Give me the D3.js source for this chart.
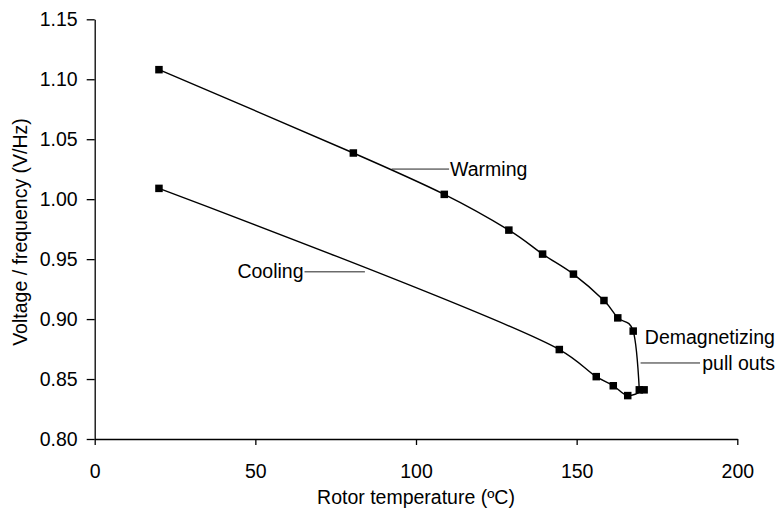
<!DOCTYPE html>
<html lang="en">
<head>
    <meta charset="UTF-8">
    <title>Rotor temperature vs V/Hz</title>
    <script src="https://d3js.org/d3.v7.min.js"></script>
    <style>
        body {
            margin: 0;
            background: #fff;
        }

        svg {
            display: block;
            font-family: "Liberation Sans", Arial, sans-serif;
        }
    </style>
</head>
<body>
    <div id="chart"></div>

    <script>
        // data
        const warmingTemp = [20, 80.5, 108.8, 128.9, 139.4, 149, 158.5, 162.8, 167.6, 169.5];
        const warmingVhz  = [1.108, 1.0385, 1.004, 0.9742, 0.9542, 0.9375, 0.9155, 0.901, 0.890, 0.841];
        const coolingTemp = [171, 165.9, 161.4, 156.1, 144.6, 20];
        const coolingVhz  = [0.841, 0.8362, 0.8444, 0.852, 0.8746, 1.009];
        const xTicks = [0, 50, 100, 150, 200];
        const yTicks = [0.80, 0.85, 0.90, 0.95, 1.00, 1.05, 1.10, 1.15];

        const width = 779;
        const height = 509;
        const margin = {top: 19.3, right: 41.7, bottom: 70, left: 94.7};
        const fontSize = 19.5;

        const svg = d3.select("#chart").append("svg")
            .attr("width", width)
            .attr("height", height);

        const x = d3.scaleLinear().domain([0, 200]).range([margin.left, width - margin.right]);
        const y = d3.scaleLinear().domain([0.80, 1.15]).range([height - margin.bottom, margin.top]);

        // axes
        const xAxis = svg.append("g")
            .attr("transform", `translate(0,${y(0.80)})`)
            .call(d3.axisBottom(x).tickValues(xTicks).tickFormat(d3.format("d"))
                .tickSizeInner(6).tickSizeOuter(0).tickPadding(19));

        const yAxis = svg.append("g")
            .attr("transform", `translate(${x(0)},0)`)
            .call(d3.axisLeft(y).tickValues(yTicks).tickFormat(d3.format(".2f"))
                .tickSizeInner(8).tickSizeOuter(0).tickPadding(9));

        [xAxis, yAxis].forEach(g => {
            g.selectAll("path, line").attr("stroke", "#000").attr("stroke-width", 1.3);
            g.selectAll("text").attr("fill", "#000").style("font-size", fontSize + "px")
                .style("font-family", "'Liberation Sans', Arial, sans-serif");
        });

        svg.append("text")
            .attr("x", x(100))
            .attr("y", 504)
            .attr("text-anchor", "middle")
            .style("font-size", fontSize + "px")
            .text("Rotor temperature (ºC)");

        svg.append("text")
            .attr("transform", `translate(26.7,232) rotate(-90)`)
            .attr("text-anchor", "middle")
            .style("font-size", fontSize + "px")
            .text("Voltage / frequency (V/Hz)");

        // series (warming smoothed like the spreadsheet, cooling kept centripetal to avoid overshoot)
        const makeLine = alpha => d3.line()
            .x(d => x(d[0]))
            .y(d => y(d[1]))
            .curve(d3.curveCatmullRom.alpha(alpha));

        const series = [
            {pts: d3.zip(warmingTemp, warmingVhz), alpha: 0},
            {pts: d3.zip(coolingTemp, coolingVhz), alpha: 0.5}
        ];

        series.forEach(s => {
            svg.append("path")
                .datum(s.pts)
                .attr("fill", "none")
                .attr("stroke", "#000")
                .attr("stroke-width", 1.4)
                .attr("d", makeLine(s.alpha));

            svg.append("g")
                .selectAll("rect")
                .data(s.pts)
                .enter().append("rect")
                .attr("x", d => x(d[0]) - 3.75)
                .attr("y", d => y(d[1]) - 3.75)
                .attr("width", 7.5)
                .attr("height", 7.5)
                .attr("fill", "#000");
        });

        // call-out labels, placed in data units
        const labels = [
            {lines: ["Warming"], anchor: "start", tx: 110.6, ty: [1.0255], from: [92.4, 110.3], ly: 1.0251},
            {lines: ["Cooling"], anchor: "end", tx: 65.0, ty: [0.9405], from: [65.3, 84.1], ly: 0.9394},
            {lines: ["Demagnetizing", "pull outs"], anchor: "end", tx: 211.7, ty: [0.8849, 0.8634], from: [169.9, 188.4], ly: 0.8634}
        ];

        labels.forEach(l => {
            svg.append("line")
                .attr("x1", x(l.from[0]))
                .attr("x2", x(l.from[1]))
                .attr("y1", y(l.ly))
                .attr("y2", y(l.ly))
                .attr("stroke", "#222")
                .attr("stroke-width", 1);

            l.lines.forEach((t, i) => {
                svg.append("text")
                    .attr("x", x(l.tx))
                    .attr("y", y(l.ty[i]))
                    .attr("dy", "0.36em")
                    .attr("text-anchor", l.anchor)
                    .style("font-size", fontSize + "px")
                    .text(t);
            });
        });
    </script>
</body>
</html>
